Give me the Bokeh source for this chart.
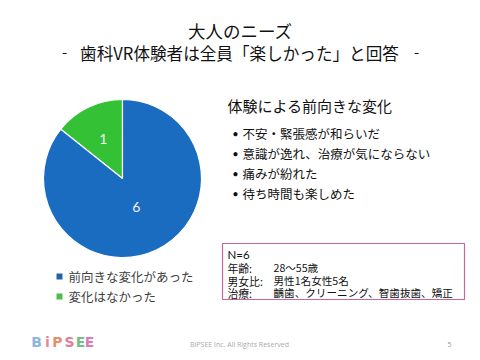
import math
from bokeh.plotting import figure
from bokeh.models import Range1d, ColumnDataSource
from bokeh.core.properties import value
from bokeh.embed import file_html
from bokeh.resources import INLINE

# ---- data ----
categories = ["前向きな変化があった", "変化はなかった"]
counts = [6, 1]
colors = ["#1A6CC0", "#35C135"]
legend_colors = ["#2462A8", "#4DBB4D"]

title_text = "大人のニーズ"
subtitle_text = "歯科VR体験者は全員「楽しかった」と回答"
heading_text = "体験による前向きな変化"
bullets = ["不安・緊張感が和らいだ", "意識が逸れ、治療が気にならない", "痛みが紛れた", "待ち時間も楽しめた"]
info_labels = ["年齢:", "男女比:", "治療:"]
info_values = ["28〜55歳", "男性1名女性5名", "齲歯、クリーニング、智歯抜歯、矯正"]
n_text = "N=6"
footer_text = "BiPSEE Inc. All Rights Reserved"
page_no = "5"
logo_letters = ["B", "i", "P", "S", "E", "E"]
logo_colors = ["#7BA6DA", "#E0708E", "#E27A4A", "#E06486", "#5DB071", "#D466A4"]

W, H = 480, 360
JP = value("Noto Sans CJK JP")
LAT = value("Lato")


def Y(py):
    return H - py


p = figure(width=W, height=H, x_range=Range1d(0, W), y_range=Range1d(0, H),
           output_backend="svg", toolbar_location=None, min_border=0)
p.axis.visible = False
p.grid.visible = False
p.outline_line_color = None
p.background_fill_color = "white"
p.border_fill_color = "white"

# ---- pie ----
total = sum(counts)
cx, cy, r = 122, Y(178), 79
order = [1, 0]
start = math.pi / 2
starts, ends, cols, mids = [], [], [], []
for i in order:
    span = 2 * math.pi * counts[i] / total
    starts.append(start)
    ends.append(start + span)
    cols.append(colors[i])
    mids.append(start + span / 2)
    start += span
src = ColumnDataSource(dict(x=[cx] * 2, y=[cy] * 2, s=starts, e=ends, c=cols))
p.wedge(x="x", y="y", radius=r, radius_units="screen", start_angle="s", end_angle="e",
        fill_color="c", line_color="white", line_width=1.2, source=src)

label_frac = [0.56, 0.40]
lx = [cx + r * f * math.cos(m) for f, m in zip(label_frac, mids)]
ly = [cy + r * f * math.sin(m) for f, m in zip(label_frac, mids)]
p.text(x=lx, y=ly, text=[str(counts[i]) for i in order], text_color="#F2F2F2",
       text_font=LAT, text_font_size="14px", text_align="center", text_baseline="middle")

# ---- titles ----
p.text(x=[240], y=[Y(30)], text=[title_text], text_font=JP, text_font_size="17.5px",
       text_color="#111111", text_align="center", text_baseline="middle")
p.text(x=[239], y=[Y(52)], text=[subtitle_text], text_font=JP, text_font_size="16.6px",
       text_color="#111111", text_align="center", text_baseline="middle")
p.text(x=[64, 416], y=[Y(52), Y(52)], text=["-", "-"], text_font=JP, text_font_size="15px",
       text_color="#111111", text_align="center", text_baseline="middle")

# ---- right text ----
p.text(x=[227], y=[Y(105)], text=[heading_text], text_font=JP, text_font_size="15px",
       text_color="#111111", text_align="left", text_baseline="middle")
by = [133, 153, 173, 193]
p.text(x=[242] * 4, y=[Y(v) for v in by], text=bullets, text_font=JP, text_font_size="12.5px",
       text_color="#111111", text_align="left", text_baseline="middle")
p.text(x=[235] * 4, y=[Y(v) for v in by], text=["•"] * 4, text_font=LAT, text_font_size="11px",
       text_color="#111111", text_align="center", text_baseline="middle")

# ---- info box ----
p.quad(left=[222], right=[464], top=[Y(243)], bottom=[Y(299)], fill_color="white",
       line_color="#C5679A", line_width=1.2)
p.text(x=[227], y=[Y(254)], text=[n_text], text_font=LAT, text_font_size="11.5px",
       text_color="#111111", text_align="left", text_baseline="middle")
iy = [267, 280, 292]
p.text(x=[227] * 3, y=[Y(v) for v in iy], text=info_labels, text_font=JP, text_font_size="10.8px",
       text_color="#111111", text_align="left", text_baseline="middle")
p.text(x=[273] * 3, y=[Y(v) for v in iy], text=info_values, text_font=JP, text_font_size="10.6px",
       text_color="#111111", text_align="left", text_baseline="middle")

# ---- legend ----
ly2 = [276, 296]
p.rect(x=[59, 59], y=[Y(v) for v in ly2], width=6, height=6, width_units="screen",
       height_units="screen", fill_color=legend_colors, line_color=None)
p.text(x=[68, 68], y=[Y(v) for v in ly2], text=categories, text_font=JP, text_font_size="12.5px",
       text_color="#404040", text_align="left", text_baseline="middle")

# ---- footer ----
lxs = [36, 47, 57, 69, 80, 89]
p.text(x=lxs, y=[Y(341)] * 6, text=logo_letters, text_color=logo_colors,
       text_font=value("DejaVu Sans"), text_font_size="14px", text_font_style="bold",
       text_align="center", text_baseline="middle", text_alpha=0.85)
p.text(x=[239], y=[Y(344)], text=[footer_text], text_font=value("Open Sans"),
       text_font_size="7px", text_color="#AAAAAA", text_align="center", text_baseline="middle")
p.text(x=[449], y=[Y(344)], text=[page_no], text_font=value("Open Sans"),
       text_font_size="7px", text_color="#999999", text_align="center", text_baseline="middle")

open("out.html", "w").write(file_html(p, INLINE))
